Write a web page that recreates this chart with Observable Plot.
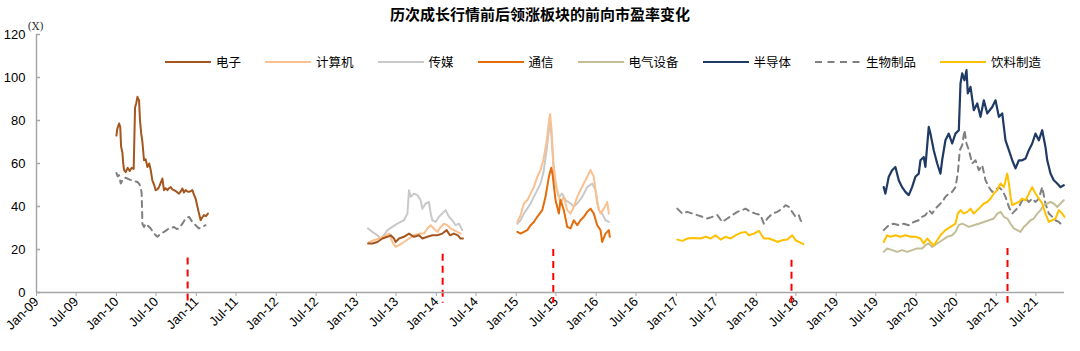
<!DOCTYPE html>
<html><head><meta charset="utf-8">
<script src="https://cdn.jsdelivr.net/npm/d3@7"></script>
<script src="https://cdn.jsdelivr.net/npm/@observablehq/plot@0.6"></script>
<style>
html,body{margin:0;padding:0;background:#fff;}
#wrap{position:relative;width:1080px;height:351px;overflow:hidden;}
#title{position:absolute;left:0;top:0;width:1080px;height:28px;line-height:28px;text-align:center;font-family:"Noto Sans CJK SC",sans-serif;font-weight:bold;font-size:15px;color:#000;z-index:2;}
#legend{position:absolute;left:165px;top:52px;display:flex;gap:24px;align-items:center;font-family:"Noto Sans CJK SC",sans-serif;font-size:12.5px;color:#000;z-index:2;white-space:nowrap;}
#legend .it{display:flex;align-items:center;gap:5px;}
#legend svg{display:block;}
#chart{position:absolute;left:0;top:0;}
</style></head>
<body><div id="wrap"><div id="title"></div><div id="legend"></div><div id="chart"></div></div>
<script>
// ---- text ----
const title = "历次成长行情前后领涨板块的前向市盈率变化";
const yUnit = "(X)";
const xTickLabels = ["Jan-09","Jul-09","Jan-10","Jul-10","Jan-11","Jul-11","Jan-12","Jul-12","Jan-13","Jul-13","Jan-14","Jul-14","Jan-15","Jul-15","Jan-16","Jul-16","Jan-17","Jul-17","Jan-18","Jul-18","Jan-19","Jul-19","Jan-20","Jul-20","Jan-21","Jul-21"];
const yTicks = [0,20,40,60,80,100,120];
const seriesNames = ["电子","计算机","传媒","通信","电气设备","半导体","生物制品","饮料制造"];
const seriesColors = ["#A5561E","#FAC08F","#C9C9C9","#E46C0A","#C4BD97","#1F3A64","#808080","#FFC000"];

// ---- data: [decimal year, forward P/E] ----
const dianzi2010 = [[2010.000,73],[2010.010,76],[2010.033,78.6],[2010.048,77],[2010.058,68],[2010.075,65],[2010.085,60],[2010.095,57],[2010.116,56],[2010.141,58],[2010.166,56.5],[2010.191,58],[2010.216,57.5],[2010.233,86],[2010.248,88],[2010.263,91],[2010.273,90],[2010.283,89.5],[2010.295,80],[2010.310,74],[2010.325,70],[2010.345,61.5],[2010.366,62],[2010.388,58.4],[2010.410,60],[2010.429,57],[2010.450,52],[2010.473,50],[2010.491,47.6],[2010.513,48],[2010.533,49],[2010.554,51],[2010.575,53],[2010.595,47.6],[2010.616,48.5],[2010.638,47.6],[2010.658,48.5],[2010.679,49],[2010.700,48],[2010.720,47.6],[2010.748,47],[2010.783,46],[2010.804,47],[2010.825,48.4],[2010.845,46.5],[2010.866,47.6],[2010.888,47],[2010.908,46.8],[2010.929,47.2],[2010.950,47.6],[2010.970,45.5],[2010.991,43.7],[2011.013,40],[2011.033,36.7],[2011.054,33.6],[2011.075,35],[2011.095,36],[2011.120,35.5],[2011.145,36.7]];
const shengwu2010 = [[2010.000,55.6],[2010.016,54],[2010.033,54.6],[2010.054,50.7],[2010.075,52.2],[2010.104,53.5],[2010.138,53],[2010.166,52.5],[2010.200,52.2],[2010.229,51.8],[2010.263,51.4],[2010.285,50.5],[2010.304,49],[2010.316,46],[2010.325,32],[2010.345,30.5],[2010.366,32],[2010.388,31.3],[2010.429,29.8],[2010.470,27.4],[2010.513,25.9],[2010.554,27.4],[2010.595,28.2],[2010.629,29],[2010.658,29.8],[2010.691,30],[2010.720,30.5],[2010.754,29.5],[2010.783,29.8],[2010.825,32],[2010.866,34.4],[2010.908,35.2],[2010.929,34],[2010.950,32.8],[2010.991,31.3],[2011.033,29.8],[2011.075,30.5],[2011.116,31.3]];
const chuanmei2013 = [[2013.145,29.8],[2013.200,28.2],[2013.263,26.6],[2013.304,25.1],[2013.345,26.6],[2013.388,29],[2013.450,30.5],[2013.513,32],[2013.554,32.8],[2013.595,33.6],[2013.638,36.7],[2013.658,47.5],[2013.679,44.5],[2013.720,46],[2013.763,45.3],[2013.804,42.9],[2013.825,39],[2013.866,41.4],[2013.908,42.1],[2013.929,36.7],[2013.950,33.6],[2013.991,32.8],[2014.033,35.2],[2014.075,36.7],[2014.116,38.3],[2014.158,35.2],[2014.200,33.6],[2014.241,31.3],[2014.283,32],[2014.325,29]];
const jisuanji2013 = [[2013.158,23.5],[2013.220,24.3],[2013.283,25.1],[2013.345,25.9],[2013.408,27.4],[2013.450,23.5],[2013.491,21.2],[2013.533,22],[2013.595,23.5],[2013.658,25.1],[2013.720,26.6],[2013.783,27.4],[2013.845,27.4],[2013.888,29.8],[2013.929,31.3],[2013.970,29.8],[2014.013,28.2],[2014.054,30.5],[2014.095,32],[2014.138,31.3],[2014.179,29.8],[2014.220,29],[2014.263,28.2],[2014.304,27.4]];
const dianzi2013 = [[2013.145,22.8],[2013.200,22.8],[2013.263,23.5],[2013.325,25.1],[2013.388,25.9],[2013.429,26.6],[2013.470,25.1],[2013.491,23.5],[2013.533,25.1],[2013.595,25.9],[2013.658,27.4],[2013.720,25.9],[2013.783,26.6],[2013.825,25.1],[2013.888,25.9],[2013.950,26.6],[2014.013,26.6],[2014.075,27.4],[2014.129,29],[2014.170,26.6],[2014.220,27.4],[2014.270,26.6],[2014.304,25.1],[2014.333,25.1]];
const tongxin2015 = [[2015.013,28.2],[2015.054,27.4],[2015.095,28.2],[2015.138,29],[2015.179,31.3],[2015.220,32.8],[2015.263,35.2],[2015.325,38.3],[2015.366,44.5],[2015.408,53.8],[2015.438,58],[2015.454,55],[2015.491,43],[2015.533,36.7],[2015.554,43],[2015.595,38.3],[2015.638,30.5],[2015.679,29.8],[2015.720,33.6],[2015.763,31.3],[2015.804,33.6],[2015.845,35.2],[2015.888,37.5],[2015.929,39],[2015.970,36.7],[2016.013,31.3],[2016.054,29],[2016.075,23.5],[2016.116,27.4],[2016.158,29],[2016.170,25.9]];
const jisuanji2015 = [[2015.013,32.8],[2015.054,36],[2015.095,41.4],[2015.138,42.9],[2015.179,46],[2015.220,49],[2015.263,53.8],[2015.304,57],[2015.341,62],[2015.379,70],[2015.410,80],[2015.423,83],[2015.441,76],[2015.466,60],[2015.491,52],[2015.513,47.6],[2015.554,41.4],[2015.595,44.5],[2015.638,38.3],[2015.679,36.7],[2015.720,39.8],[2015.763,44.5],[2015.804,47.6],[2015.845,50.7],[2015.888,53.8],[2015.929,57],[2015.970,53.8],[2016.013,41.4],[2016.054,36.7],[2016.095,39],[2016.138,42.1],[2016.158,36.7]];
const chuanmei2015 = [[2015.013,32],[2015.054,33.6],[2015.095,36.7],[2015.138,39],[2015.179,41.4],[2015.220,44.5],[2015.263,47.6],[2015.304,50.7],[2015.341,56],[2015.379,66],[2015.410,76],[2015.423,80],[2015.441,72],[2015.466,58],[2015.491,50],[2015.533,44.5],[2015.575,46],[2015.616,43],[2015.679,41.4],[2015.720,40],[2015.763,41.4],[2015.825,44.5],[2015.888,49],[2015.950,50.7],[2015.991,47.6],[2016.033,38.3],[2016.075,36.7],[2016.116,33.6],[2016.158,32.8]];
const shengwu2017 = [[2017.013,39],[2017.075,36.7],[2017.138,37.5],[2017.200,36.7],[2017.263,36],[2017.325,35.2],[2017.388,34.4],[2017.450,35.2],[2017.513,36],[2017.575,32.8],[2017.638,34.4],[2017.700,36],[2017.763,37.5],[2017.825,38.3],[2017.866,39],[2017.929,37.5],[2017.991,36.7],[2018.054,36],[2018.095,32],[2018.138,34.4],[2018.200,36.7],[2018.263,37.5],[2018.325,39],[2018.366,40.6],[2018.408,39.8],[2018.450,37.5],[2018.491,35.2],[2018.533,36],[2018.554,33.6],[2018.588,32]];
const yinliao2017 = [[2017.013,24.6],[2017.075,24],[2017.138,25.1],[2017.220,25.4],[2017.304,25.1],[2017.366,25.9],[2017.429,25.1],[2017.491,26.6],[2017.554,24.6],[2017.616,25.9],[2017.679,25.1],[2017.741,26.6],[2017.804,27.7],[2017.866,28.2],[2017.908,26.6],[2017.970,27.4],[2018.033,28.7],[2018.095,25.1],[2018.158,25.1],[2018.220,24.3],[2018.263,23.5],[2018.325,24.3],[2018.388,24.6],[2018.450,26.6],[2018.491,24.3],[2018.533,23.5],[2018.588,22.5]];
const bandaoti2019 = [[2019.595,49],[2019.616,46],[2019.658,53.8],[2019.700,56.9],[2019.741,58.4],[2019.783,52.2],[2019.825,49],[2019.866,46.8],[2019.908,45.3],[2019.950,49],[2019.991,53.8],[2020.033,55.3],[2020.054,61.5],[2020.095,63],[2020.116,58.4],[2020.158,77],[2020.179,73.9],[2020.220,66.2],[2020.263,60],[2020.304,55.3],[2020.325,61.5],[2020.366,70.8],[2020.408,73.9],[2020.450,69.3],[2020.491,73.9],[2020.533,75.5],[2020.554,97.2],[2020.575,101.9],[2020.604,98.7],[2020.629,103.4],[2020.645,92.6],[2020.679,95.6],[2020.720,84.8],[2020.763,87.9],[2020.804,81.7],[2020.845,89.4],[2020.888,83.3],[2020.950,86.3],[2020.991,89.4],[2021.033,81.7],[2021.075,83.3],[2021.116,70.8],[2021.158,66.2],[2021.200,61.5],[2021.241,57.7],[2021.283,61.5],[2021.325,61.5],[2021.366,62.3],[2021.408,66.2],[2021.450,69.3],[2021.491,73.9],[2021.533,70.8],[2021.575,75.5],[2021.616,67.7],[2021.638,61.5],[2021.679,55.3],[2021.720,52.2],[2021.763,50.7],[2021.804,49],[2021.845,49.9]];
const shengwu2019 = [[2019.595,29],[2019.658,31.3],[2019.720,32],[2019.783,31.3],[2019.845,32],[2019.908,31.3],[2019.970,32.8],[2020.033,33.6],[2020.075,35.2],[2020.116,36],[2020.158,38.3],[2020.200,36.7],[2020.241,39],[2020.283,40.6],[2020.325,42.1],[2020.366,44.5],[2020.408,46],[2020.450,46.8],[2020.491,49],[2020.520,55.3],[2020.545,66.2],[2020.575,68.5],[2020.604,75.5],[2020.629,69.3],[2020.658,66.2],[2020.700,60],[2020.741,61.5],[2020.783,56.9],[2020.825,59.2],[2020.866,52.2],[2020.908,49],[2020.950,46.8],[2020.991,47.6],[2021.033,49],[2021.075,47.6],[2021.116,44.5],[2021.158,39.8],[2021.200,36.7],[2021.241,38.3],[2021.283,39.8],[2021.325,42.9],[2021.366,43.7],[2021.408,42.1],[2021.450,43.7],[2021.491,42.1],[2021.533,43.7],[2021.575,49],[2021.616,41.4],[2021.658,36.7],[2021.700,35.2],[2021.741,33.6],[2021.783,32.8],[2021.825,31.3]];
const yinliao2019 = [[2019.595,23.5],[2019.638,26.6],[2019.679,25.9],[2019.741,26.6],[2019.804,25.9],[2019.866,26.6],[2019.929,25.9],[2019.991,25.9],[2020.054,25.1],[2020.095,22.8],[2020.138,25.1],[2020.179,23.5],[2020.220,22],[2020.263,24.3],[2020.304,26.6],[2020.366,29],[2020.429,30.5],[2020.491,32],[2020.520,36.7],[2020.554,38.3],[2020.595,36.7],[2020.638,37.5],[2020.679,39],[2020.720,36.7],[2020.763,38.3],[2020.804,39.8],[2020.845,41.4],[2020.888,42.1],[2020.929,43.7],[2020.970,46],[2021.013,47.6],[2021.054,50.7],[2021.095,49],[2021.138,55.3],[2021.158,50.7],[2021.179,44.5],[2021.200,40.6],[2021.241,41.4],[2021.283,42.1],[2021.325,43.7],[2021.366,42.9],[2021.408,46],[2021.450,49],[2021.491,46],[2021.533,43.7],[2021.575,41.4],[2021.616,36.7],[2021.658,32.8],[2021.700,33.6],[2021.741,34.4],[2021.783,38.3],[2021.825,36.7],[2021.854,35.2]];
const dianqi2019 = [[2019.595,18.9],[2019.638,20.5],[2019.700,19.7],[2019.763,18.9],[2019.825,19.7],[2019.888,18.9],[2019.950,19.7],[2020.013,20.5],[2020.075,20.5],[2020.116,22],[2020.158,22.8],[2020.200,21.2],[2020.263,22.8],[2020.325,24.3],[2020.388,25.9],[2020.450,26.6],[2020.491,28.2],[2020.533,31.3],[2020.575,32],[2020.616,31.3],[2020.658,30.5],[2020.720,31.3],[2020.783,32],[2020.845,32.8],[2020.908,33.6],[2020.970,34.4],[2021.013,36.7],[2021.054,37.5],[2021.095,35.2],[2021.138,34.4],[2021.179,32],[2021.220,29.8],[2021.263,29],[2021.304,28.2],[2021.345,30.5],[2021.388,32],[2021.429,33.6],[2021.470,34.4],[2021.513,36.7],[2021.554,38.3],[2021.595,40.6],[2021.638,41.4],[2021.679,42.1],[2021.720,41.4],[2021.763,39.8],[2021.804,41.4],[2021.845,42.9]];
// rally markers: [decimal year, top of marker]
const markers = [[2010.891,16],[2014.079,17.8],[2015.463,20],[2018.441,15],[2021.141,20.5]];
const xDomainYears = [2009.0, 2021.854];

// ---- build ----
const yr = v => { const y = Math.floor(v); const s = Date.UTC(y,0,1), e = Date.UTC(y+1,0,1); return new Date(s + (v - y) * (e - s)); };
const segs = {
  "电子": [dianzi2010, dianzi2013],
  "计算机": [jisuanji2013, jisuanji2015],
  "传媒": [chuanmei2013, chuanmei2015],
  "通信": [tongxin2015],
  "电气设备": [dianqi2019],
  "半导体": [bandaoti2019],
  "生物制品": [shengwu2010, shengwu2017, shengwu2019],
  "饮料制造": [yinliao2017, yinliao2019]
};
const color = Object.fromEntries(seriesNames.map((n,i)=>[n, seriesColors[i]]));
const rowsOf = n => segs[n].flatMap((seg,k)=>seg.map(([t,v])=>({name:n, z:n+k, date:yr(t), value:v})));
const parseTick = d3.utcParse("%b-%y");
const xTicks = xTickLabels.map(parseTick);
const fmt = d3.utcFormat("%b-%y");
const drawOrder = ["传媒","计算机","电子","通信","生物制品","电气设备","饮料制造","半导体"];
const axisColor = "#A6A6A6";
const x0 = yr(xDomainYears[0]);

const lineMarks = drawOrder.map(n => Plot.line(rowsOf(n), {
  x:"date", y:"value", z:"z", stroke: color[n], strokeWidth: n==="半导体"?2.2:2,
  strokeDasharray: n==="生物制品" ? "6,5" : null, strokeLinejoin:"round"
}));

const chart = Plot.plot({
  width:1080, height:351,
  marginLeft:36, marginRight:16, marginTop:34, marginBottom:59,
  style:{fontFamily:"'Liberation Sans', Arial, sans-serif", fontSize:"13px", color:"#000", background:"#fff"},
  x:{type:"utc", domain:xDomainYears.map(yr)},
  y:{domain:[0,120]},
  marks:[
    Plot.axisY({ticks:yTicks, tickSize:0, tickPadding:11, label:null, fontSize:13}),
    Plot.axisX({ticks:xTicks, tickFormat:fmt, tickRotate:-45, tickSize:4, tickPadding:3, stroke:axisColor, label:null, fontSize:13}),
    Plot.ruleY(yTicks, {x1:x0, x2:yr(xDomainYears[0]+0.05), stroke:axisColor, strokeWidth:1.5}),
    ...lineMarks,
    Plot.ruleX(markers, {x:d=>yr(d[0]), y1:d=>d[1], y2:-5, stroke:"#FF0000", strokeWidth:2, strokeDasharray:"7,5"}),
    Plot.ruleY([0], {stroke:axisColor, strokeWidth:1.5}),
    Plot.ruleX([x0], {y1:0, y2:120, stroke:axisColor, strokeWidth:1.5}),
    Plot.text([yUnit], {frameAnchor:"top-left", dx:-9, dy:-12, fontSize:11, fontFamily:"'DejaVu Serif', serif", fill:"#333"})
  ]
});
document.getElementById("chart").appendChild(chart);
document.getElementById("title").textContent = title;

// legend
const lg = document.getElementById("legend");
seriesNames.forEach((n,i)=>{
  const it = document.createElement("div"); it.className="it";
  const dash = n==="生物制品" ? ' stroke-dasharray="7,5.5"' : '';
  it.innerHTML = `<svg width="46" height="4"><line x1="0" y1="2" x2="46" y2="2" stroke="${seriesColors[i]}" stroke-width="2"${dash}/></svg><span>${n}</span>`;
  lg.appendChild(it);
});
</script></body></html>
